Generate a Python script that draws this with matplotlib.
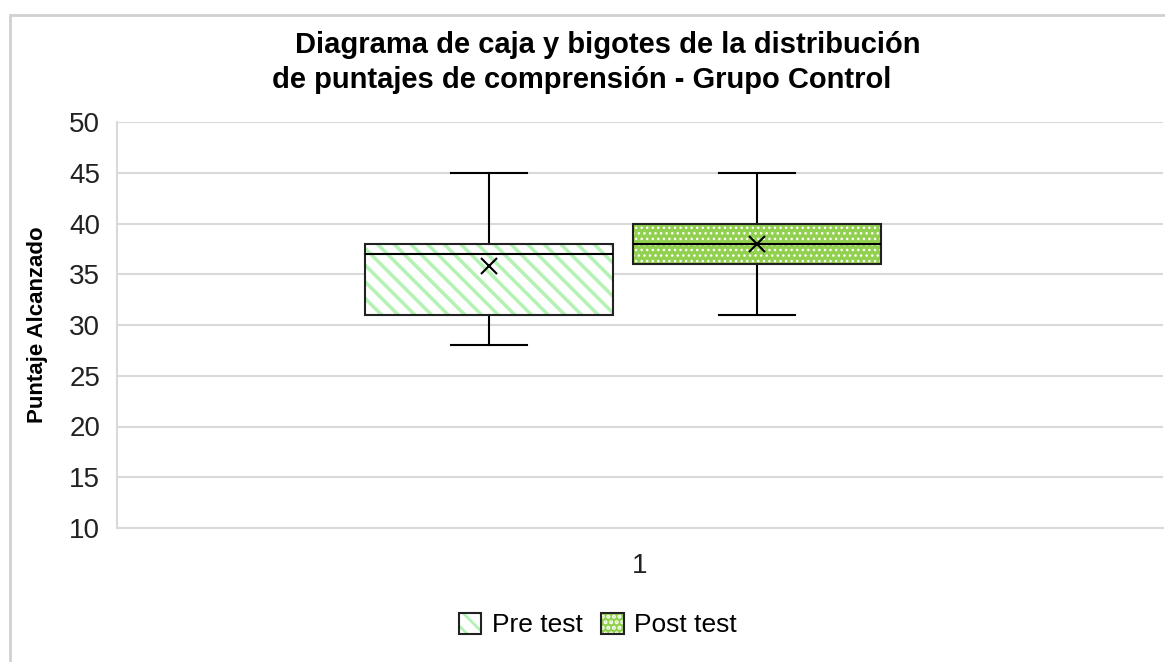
import matplotlib.pyplot as plt
from matplotlib.patches import Rectangle, Patch

plt.rcParams['font.family'] = ['Liberation Sans', 'DejaVu Sans']

# five-number summaries
groups = ['Pre test', 'Post test']
whisker_low = [28, 31]
q1 = [31, 36]
median = [37, 38]
q3 = [38, 40]
whisker_high = [45, 45]
mean = [35.8, 38]

fills = ['white', '#92d050']
hatch_colors = ['#b3f2b3', 'white']
hatches = ['\\\\', '...']
hatch_lw = [2.5, 1.0]

fig = plt.figure(figsize=(11.65, 6.62), dpi=100)
ax = fig.add_axes([117/1165, 1 - 528/662, 1046/1165, 406/662])

stats = []
for i in range(len(groups)):
    stats.append(dict(whislo=whisker_low[i], q1=q1[i], med=median[i], q3=q3[i],
                      whishi=whisker_high[i], mean=mean[i], fliers=[], label=groups[i]))

positions = [0.3556, 0.612]
bp = ax.bxp(stats, positions=positions, widths=0.237, patch_artist=True,
            showmeans=True, showfliers=False,
            boxprops=dict(linewidth=1.5, facecolor='none', edgecolor='#222222'),
            medianprops=dict(color='black', linewidth=1.5),
            whiskerprops=dict(color='black', linewidth=1.5),
            capprops=dict(color='black', linewidth=1.5),
            meanprops=dict(marker='x', markeredgecolor='black', markersize=11,
                           markeredgewidth=1.5))
for cap in bp['caps']:
    x0, x1 = cap.get_xdata()
    c = (x0 + x1) / 2
    cap.set_xdata([c - 0.036, c + 0.036])

# hatched fills drawn under the box outlines
for i, box in enumerate(bp['boxes']):
    box.set_zorder(2.5)
    verts = box.get_path().vertices
    x_lo, x_hi = verts[:, 0].min(), verts[:, 0].max()
    with plt.rc_context({'hatch.linewidth': hatch_lw[i]}):
        ax.add_patch(Rectangle((x_lo, q1[i]), x_hi - x_lo, q3[i] - q1[i],
                               facecolor=fills[i], edgecolor=hatch_colors[i],
                               hatch=hatches[i], linewidth=0, zorder=1.8))
for m in bp['medians'] + bp['means']:
    m.set_zorder(3)

ax.set_xlim(0, 1)
ax.set_ylim(10, 50)
ax.set_yticks(range(10, 51, 5))
ax.set_xticks([0.5])
ax.set_xticklabels(['1'])
ax.tick_params(axis='both', length=0, labelsize=20, colors='#222222')
ax.tick_params(axis='y', pad=12)
ax.tick_params(axis='x', pad=18)
ax.yaxis.grid(True, color='#d9d9d9', linewidth=1.5)
ax.set_axisbelow(True)
for s in ['top', 'right']:
    ax.spines[s].set_visible(False)
for s in ['left', 'bottom']:
    ax.spines[s].set_color('#d9d9d9')
    ax.spines[s].set_linewidth(1.5)

ax.set_ylabel('Puntaje Alcanzado', fontsize=16, fontweight='bold')
ax.yaxis.set_label_coords(-0.066, 0.5)

fig.text(608/1165, 1 - 45/662, 'Diagrama de caja y bigotes de la distribución',
         ha='center', va='center', fontsize=21, fontweight='bold')
fig.text(582/1165, 1 - 80/662, 'de puntajes de comprensión - Grupo Control',
         ha='center', va='center', fontsize=21, fontweight='bold')

handles = []
for i in range(len(groups)):
    inner = Patch(facecolor=fills[i], edgecolor=hatch_colors[i], hatch=hatches[i], linewidth=0)
    outline = Patch(fill=False, edgecolor='#222222', linewidth=1.5)
    handles.append((inner, outline))
with plt.rc_context({'hatch.linewidth': 2.0}):
    leg = fig.legend(handles, groups, loc='center', bbox_to_anchor=(598/1165, 1 - 625/662),
                     ncol=2, frameon=False, fontsize=19, handlelength=0.85, handleheight=0.85,
                     handletextpad=0.4, columnspacing=0.7)

# outer chart border
fig.patches.append(Rectangle((10/1165, -0.01), 1.1, 1 - 15/662 + 0.01,
                             transform=fig.transFigure, fill=False,
                             edgecolor='#d0d0d0', linewidth=2))

fig.savefig('out.png', dpi=100)
